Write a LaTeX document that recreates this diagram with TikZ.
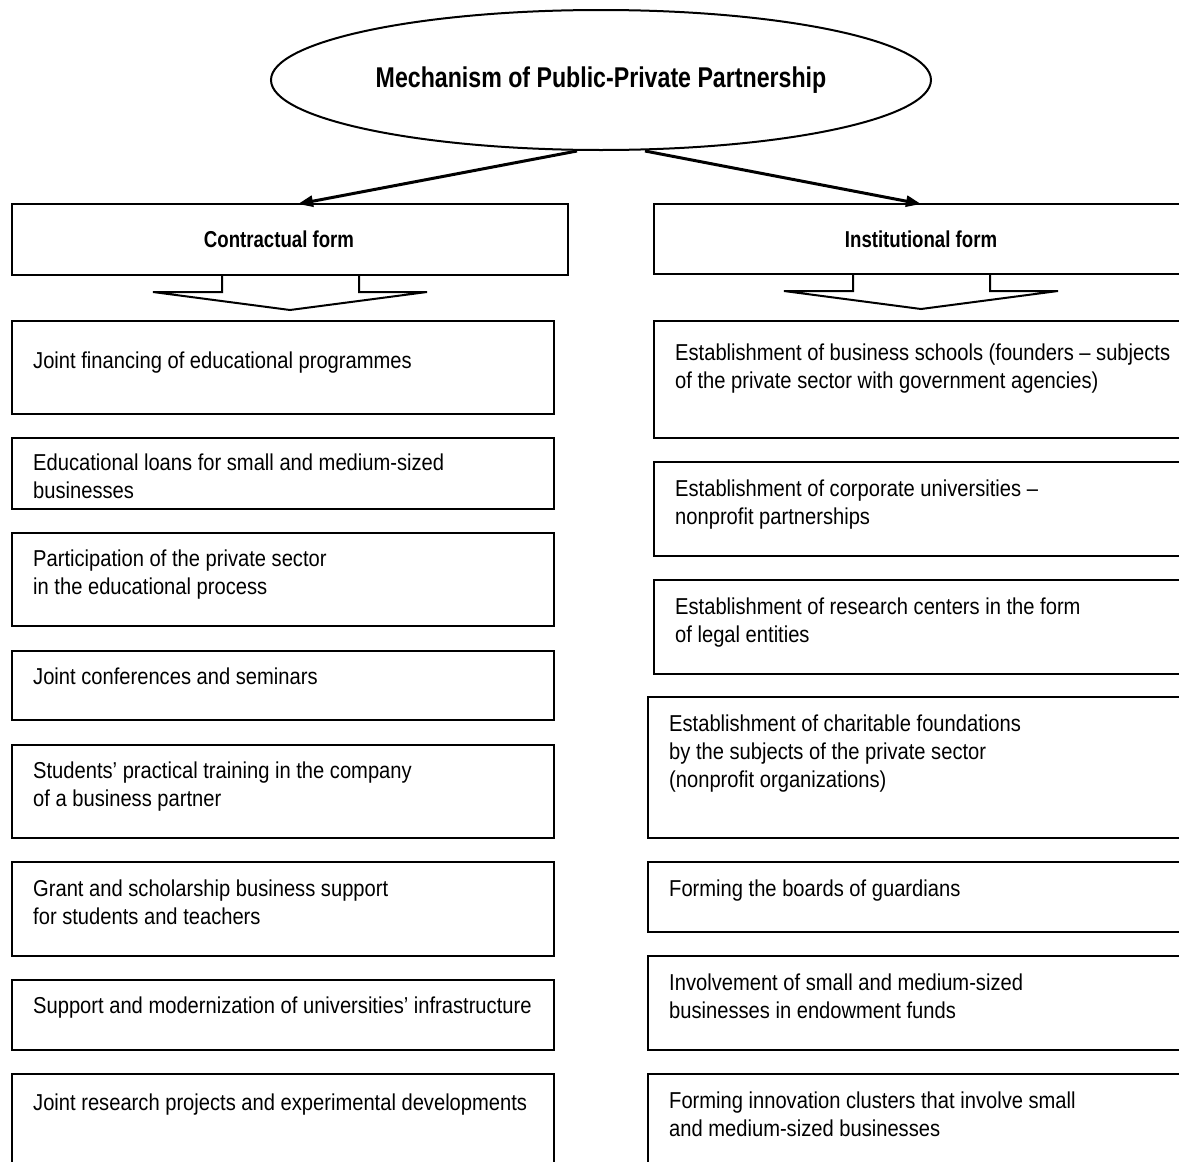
\documentclass[tikz,border=0pt]{standalone}
\usepackage{fontspec}
\setmainfont[FakeStretch=0.876,BoldFeatures={FakeStretch=0.81}]{Liberation Sans}
\usetikzlibrary{arrows.meta,shapes.geometric}

% Lines of a box, the baseline of the first line is the baseline of the whole
\newcommand{\boxlines}[1]{\begin{tabular}[t]{@{}l@{}}#1\end{tabular}}

\begin{document}
\begin{tikzpicture}[x=1pt,y=-1pt,
        box/.style={
            % The shape:
            rectangle,
            % The border
            line width=2.2pt,
            draw=black,
            % The size is set per box
            inner sep=0pt,
            outer sep=0pt,
            anchor=north west
        },
        boxtext/.style={
            anchor=base west,
            inner sep=0pt,
            % Font
            font=\fontsize{23}{28}\selectfont
        },
        formtext/.style={
            font=\bfseries\fontsize{23}{28}\selectfont
        },
        link/.style={
            line width=3pt,
            -{Triangle[length=15pt,width=11pt]}
        },
        blockarrow/.style={
            line width=2pt,
            line join=miter
        }]

        \useasboundingbox (0,0) rectangle (1179,1162);
        \clip (0,0) rectangle (1179,1162);

        % The title
        \node [ellipse, draw, line width=2pt, minimum width=660, minimum height=140,
               inner sep=0pt, font=\bfseries\fontsize{28.6}{32}\selectfont]
            (mech) at (601,80) {Mechanism of Public-Private Partnership};

        % The two forms
        \node [box, minimum width=556, minimum height=71] (cform) at (12,204) {};
        \node [formtext] (cformtext) at ([xshift=-11pt]cform.center) {Contractual form};
        \node [box, minimum width=534, minimum height=70] (iform) at (654,204) {};
        \node [formtext] (iformtext) at (iform.center) {Institutional form};

        \draw [link] ([xshift=-24pt]mech.south) -- ([xshift=8pt]cform.north);
        \draw [link] ([xshift=44pt]mech.south) -- (iform.north);

        \foreach \f in {cform, iform}
        {
            \draw [blockarrow] (\f.south) ++(-68,0) -- ++(0,17) -- ++(-69,0)
                -- ++(137,18) -- ++(137,-18) -- ++(-68,0) -- ++(0,-17);
        }

        % Contractual form
        \foreach \n/\top/\h/\base/\txt in {
            1/321/93/47/{Joint financing of educational programmes},
            2/438/71/32/{Educational loans for small and medium-sized\\businesses},
            3/533/93/33/{Participation of the private sector\\in the educational process},
            4/651/69/33/{Joint conferences and seminars},
            5/745/93/33/{Students’ practical training in the company\\of a business partner},
            6/862/94/34/{Grant and scholarship business support\\for students and teachers},
            7/980/70/33/{Support and modernization of universities’ infrastructure},
            8/1074/120/36/{Joint research projects and experimental developments}}
        {
            \node [box, minimum width=542, minimum height=\h] (c\n) at (12,\top) {};
            \node [boxtext] (ct\n) at ([xshift=21pt,yshift=-\base pt]c\n.north west) {\boxlines{\txt}};
        }

        % Institutional form
        \foreach \n/\left/\top/\h/\base/\txt in {
            1/654/321/117/39/{Establishment of business schools (founders – subjects\\of the private sector with government agencies)},
            2/654/462/94/34/{Establishment of corporate universities –\\nonprofit partnerships},
            3/654/580/94/34/{Establishment of research centers in the form\\of legal entities},
            4/648/697/141/34/{Establishment of charitable foundations\\by the subjects of the private sector\\(nonprofit organizations)},
            5/648/862/70/34/{Forming the boards of guardians},
            6/648/956/94/34/{Involvement of small and medium-sized\\businesses in endowment funds},
            7/648/1074/120/34/{Forming innovation clusters that involve small\\and medium-sized businesses}}
        {
            \node [box, minimum width=560, minimum height=\h] (r\n) at (\left,\top) {};
            \node [boxtext] (rt\n) at ([xshift=21pt,yshift=-\base pt]r\n.north west) {\boxlines{\txt}};
        }

    \end{tikzpicture}
\end{document}
